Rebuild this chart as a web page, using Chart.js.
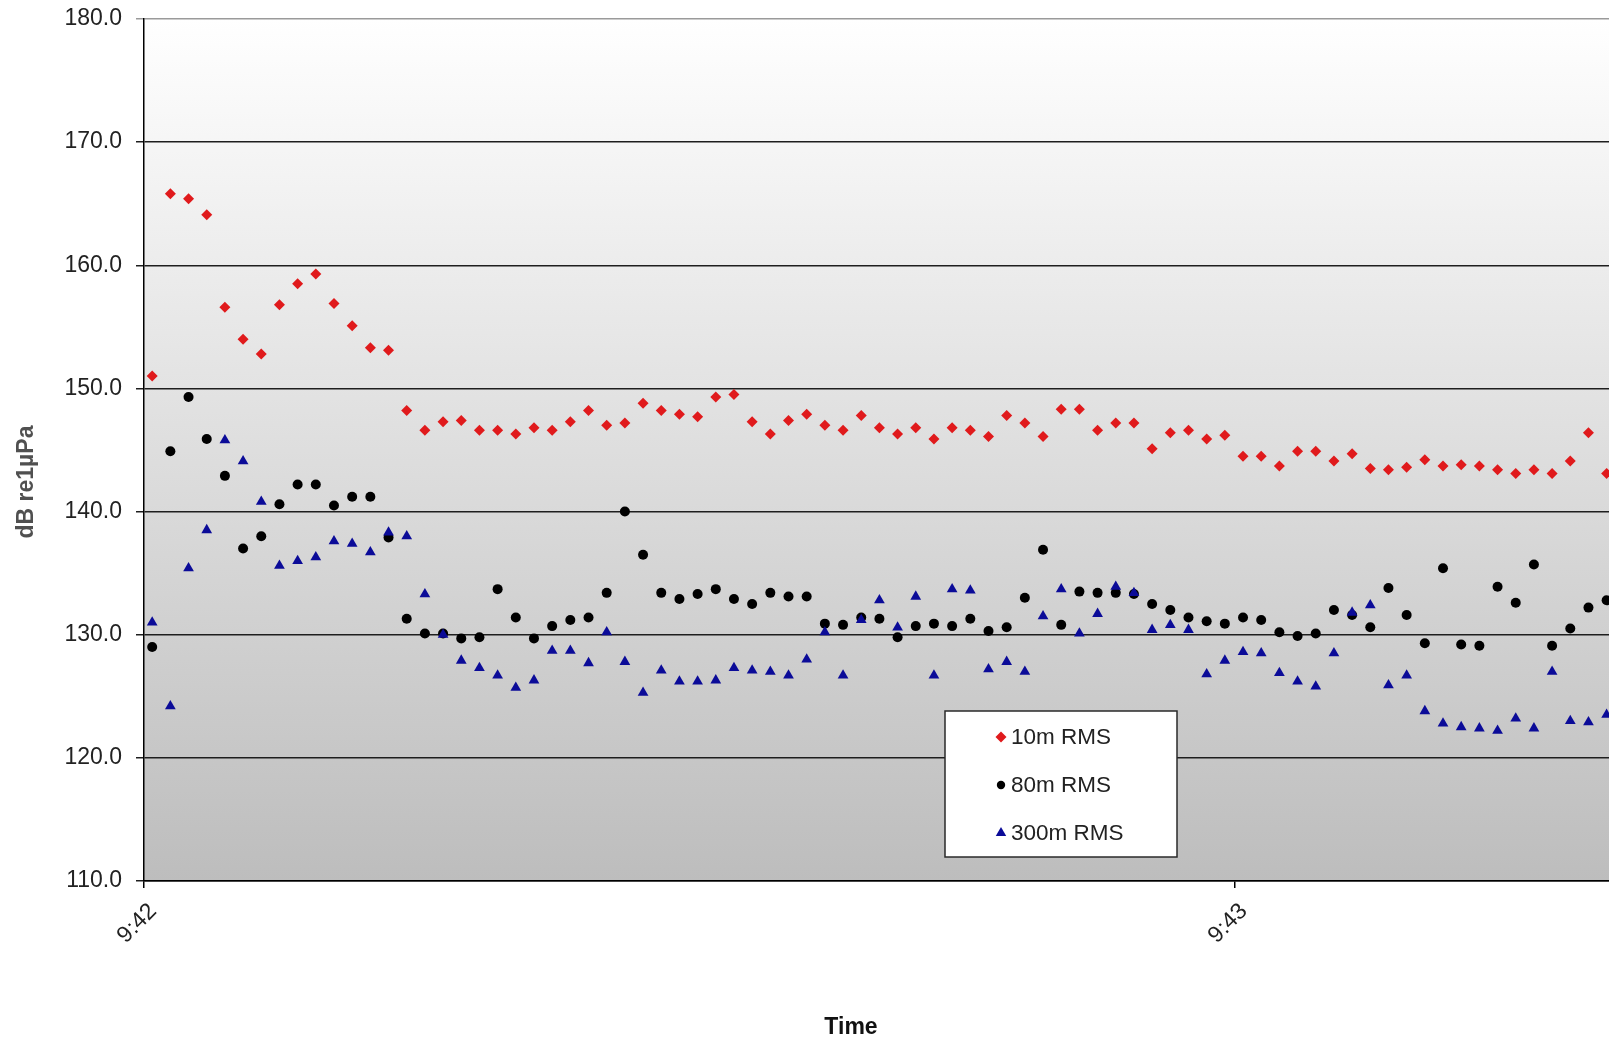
<!DOCTYPE html>
<html>
<head>
<meta charset="utf-8">
<title>RMS levels</title>
<script src="https://cdn.jsdelivr.net/npm/chart.js@4/dist/chart.umd.min.js"></script>
<style>
  html, body { margin: 0; padding: 0; background: #fff; overflow: hidden; }
  #wrap { width: 1609px; height: 1040px; }
</style>
</head>
<body>
<div id="wrap"><canvas id="rms-chart" width="1609" height="1040"></canvas></div>
<script>
// seconds after 9:42:00, one sample per second
var sampleSec = [0, 1, 2, 3, 4, 5, 6, 7, 8, 9, 10, 11, 12, 13, 14, 15, 16, 17, 18, 19,
    20, 21, 22, 23, 24, 25, 26, 27, 28, 29, 30, 31, 32, 33, 34, 35, 36, 37, 38, 39,
    40, 41, 42, 43, 44, 45, 46, 47, 48, 49, 50, 51, 52, 53, 54, 55, 56, 57, 58, 59,
    60, 61, 62, 63, 64, 65, 66, 67, 68, 69, 70, 71, 72, 73, 74, 75, 76, 77, 78, 79, 80];

var rms10m = [151.0, 165.8, 165.4, 164.1, 156.6, 154.0, 152.8, 156.8, 158.5, 159.3,
    156.9, 155.1, 153.3, 153.1, 148.2, 146.6, 147.3, 147.4, 146.6, 146.6,
    146.3, 146.8, 146.6, 147.3, 148.2, 147.0, 147.2, 148.8, 148.2, 147.9,
    147.7, 149.3, 149.5, 147.3, 146.3, 147.4, 147.9, 147.0, 146.6, 147.8,
    146.8, 146.3, 146.8, 145.9, 146.8, 146.6, 146.1, 147.8, 147.2, 146.1,
    148.3, 148.3, 146.6, 147.2, 147.2, 145.1, 146.4, 146.6, 145.9, 146.2,
    144.5, 144.5, 143.7, 144.9, 144.9, 144.1, 144.7, 143.5, 143.4, 143.6,
    144.2, 143.7, 143.8, 143.7, 143.4, 143.1, 143.4, 143.1, 144.1, 146.4, 143.1];

var rms80m = [129.0, 144.9, 149.3, 145.9, 142.9, 137.0, 138.0, 140.6, 142.2, 142.2,
    140.5, 141.2, 141.2, 137.9, 131.3, 130.1, 130.1, 129.7, 129.8, 133.7,
    131.4, 129.7, 130.7, 131.2, 131.4, 133.4, 140.0, 136.5, 133.4, 132.9,
    133.3, 133.7, 132.9, 132.5, 133.4, 133.1, 133.1, 130.9, 130.8, 131.4,
    131.3, 129.8, 130.7, 130.9, 130.7, 131.3, 130.3, 130.6, 133.0, 136.9,
    130.8, 133.5, 133.4, 133.4, 133.3, 132.5, 132.0, 131.4, 131.1, 130.9,
    131.4, 131.2, 130.2, 129.9, 130.1, 132.0, 131.6, 130.6, 133.8, 131.6,
    129.3, 135.4, 129.2, 129.1, 133.9, 132.6, 135.7, 129.1, 130.5, 132.2, 132.8];

var rms300m = [131.0, 124.2, 135.4, 138.5, 145.8, 144.1, 140.8, 135.6, 136.0, 136.3,
    137.6, 137.4, 136.7, 138.3, 138.0, 133.3, 130.0, 127.9, 127.3, 126.7,
    125.7, 126.3, 128.7, 128.7, 127.7, 130.2, 127.8, 125.3, 127.1, 126.2,
    126.2, 126.3, 127.3, 127.1, 127.0, 126.7, 128.0, 130.2, 126.7, 131.2,
    132.8, 130.6, 133.1, 126.7, 133.7, 133.6, 127.2, 127.8, 127.0, 131.5,
    133.7, 130.1, 131.7, 133.9, 133.4, 130.4, 130.8, 130.4, 126.8, 127.9,
    128.6, 128.5, 126.9, 126.2, 125.8, 128.5, 131.8, 132.4, 125.9, 126.7,
    123.8, 122.8, 122.5, 122.4, 122.2, 123.2, 122.4, 127.0, 123.0, 122.9, 123.5];

var seriesNames = ['10m RMS', '80m RMS', '300m RMS'];
var tickSec = [0, 60];
var tickLabels = ['9:42', '9:43'];

var SAMPLE_PHASE = 0.45;   // samples land a little after each whole second
var X_MAX = 80.58;         // plot is cut off at the right edge

var RED = '#e01a1c', BLACK = '#000000', BLUE = '#0b0b98';
var FONT = "'Liberation Sans', Arial, sans-serif";

function toPoints(vals) {
    return vals.map(function (v, i) {
        return { x: sampleSec[i] + SAMPLE_PHASE, y: v };
    });
}

function marker(ctx, style, x, y, r, color) {
    ctx.fillStyle = color;
    ctx.beginPath();
    if (style === 'diamond') {
        ctx.moveTo(x, y - r); ctx.lineTo(x + r, y); ctx.lineTo(x, y + r); ctx.lineTo(x - r, y);
    } else if (style === 'circle') {
        ctx.arc(x, y, r, 0, Math.PI * 2);
    } else {
        ctx.moveTo(x, y - r); ctx.lineTo(x + r * 0.87, y + r * 0.5); ctx.lineTo(x - r * 0.87, y + r * 0.5);
    }
    ctx.closePath();
    ctx.fill();
}

// gradient plot background, axis titles and the boxed legend inside the plot
var plotDecor = {
    id: 'plotDecor',
    beforeDraw: function (chart) {
        var a = chart.chartArea, ctx = chart.ctx;
        var g = ctx.createLinearGradient(0, a.top, 0, a.bottom);
        g.addColorStop(0, '#ffffff');
        g.addColorStop(1, '#bdbdbd');
        ctx.save();
        ctx.fillStyle = g;
        ctx.fillRect(a.left, a.top, a.right - a.left, a.bottom - a.top);
        ctx.restore();
    },
    afterDraw: function (chart) {
        var a = chart.chartArea, ctx = chart.ctx;
        ctx.save();

        // axis titles
        ctx.font = 'bold 23px ' + FONT;
        ctx.textAlign = 'center';
        ctx.textBaseline = 'middle';
        ctx.fillStyle = '#111';
        ctx.fillText('Time', a.left + 707, 1028);
        ctx.save();
        ctx.translate(27, 482);
        ctx.rotate(-Math.PI / 2);
        ctx.fillStyle = '#505050';
        ctx.fillText('dB re1µPa', 0, 0);
        ctx.restore();

        // legend
        var bx = a.left + 801, by = a.top + 692, bw = 232, bh = 146;
        ctx.fillStyle = '#fff';
        ctx.fillRect(bx, by, bw, bh);
        ctx.strokeStyle = '#2a2a2a';
        ctx.lineWidth = 1.5;
        ctx.strokeRect(bx, by, bw, bh);
        var styles = ['diamond', 'circle', 'triangle'];
        var colors = [RED, BLACK, BLUE];
        var sizes = [5.5, 4.2, 6];
        ctx.font = '22.5px ' + FONT;
        ctx.textAlign = 'left';
        for (var i = 0; i < seriesNames.length; i++) {
            var ry = by + 26 + i * 48;
            marker(ctx, styles[i], bx + 56, ry, sizes[i], colors[i]);
            ctx.fillStyle = '#222';
            ctx.fillText(seriesNames[i], bx + 66, ry + 1);
        }
        ctx.restore();
    }
};

function noEdgePadding(scale) {
    scale.paddingLeft = 0;
    scale.paddingRight = 0;
    scale.paddingTop = 0;
    scale.paddingBottom = 0;
}

window.onload = function () {
    Chart.defaults.font.family = FONT;
    var ctx = document.getElementById('rms-chart');
    new Chart(ctx, {
        type: 'scatter',
        data: {
            datasets: [
                { label: seriesNames[0], data: toPoints(rms10m), pointStyle: 'rectRot', pointRadius: 5.5,
                  backgroundColor: RED, borderWidth: 0, order: 2 },
                { label: seriesNames[1], data: toPoints(rms80m), pointStyle: 'circle', pointRadius: 5,
                  backgroundColor: BLACK, borderWidth: 0, order: 1 },
                { label: seriesNames[2], data: toPoints(rms300m), pointStyle: 'triangle', pointRadius: 6.2,
                  backgroundColor: BLUE, borderWidth: 0, order: 0 }
            ]
        },
        options: {
            responsive: false,
            animation: false,
            layout: { autoPadding: false, padding: { top: 19, right: 0, bottom: 0, left: 0 } },
            plugins: { legend: { display: false }, tooltip: { enabled: false } },
            elements: { point: { hoverRadius: 6 } },
            scales: {
                x: {
                    type: 'linear',
                    min: 0,
                    max: X_MAX,
                    afterBuildTicks: function (scale) {
                        scale.ticks = tickSec.map(function (s) { return { value: s }; });
                    },
                    afterFit: function (scale) { scale.height = 159; noEdgePadding(scale); },
                    ticks: {
                        autoSkip: false,
                        minRotation: 45,
                        maxRotation: 45,
                        padding: 10,
                        labelOffset: 9,
                        color: '#222',
                        font: { size: 23 },
                        callback: function (v) { return tickLabels[tickSec.indexOf(v)]; }
                    },
                    grid: { drawOnChartArea: false, drawTicks: true, tickLength: 7, color: '#000', lineWidth: 1.5 },
                    border: { color: '#000', width: 1.5 }
                },
                y: {
                    min: 110,
                    max: 180,
                    afterFit: function (scale) { scale.width = 144; noEdgePadding(scale); },
                    ticks: {
                        stepSize: 10,
                        padding: 14,
                        color: '#222',
                        font: { size: 23 },
                        callback: function (v) { return v.toFixed(1); }
                    },
                    grid: {
                        tickLength: 8,
                        lineWidth: 1.5,
                        color: function (c) { return c.tick && c.tick.value === 180 ? '#9a9a9a' : '#1e1e1e'; }
                    },
                    border: { color: '#000', width: 1.5 }
                }
            }
        },
        plugins: [plotDecor]
    });
};
</script>
</body>
</html>
